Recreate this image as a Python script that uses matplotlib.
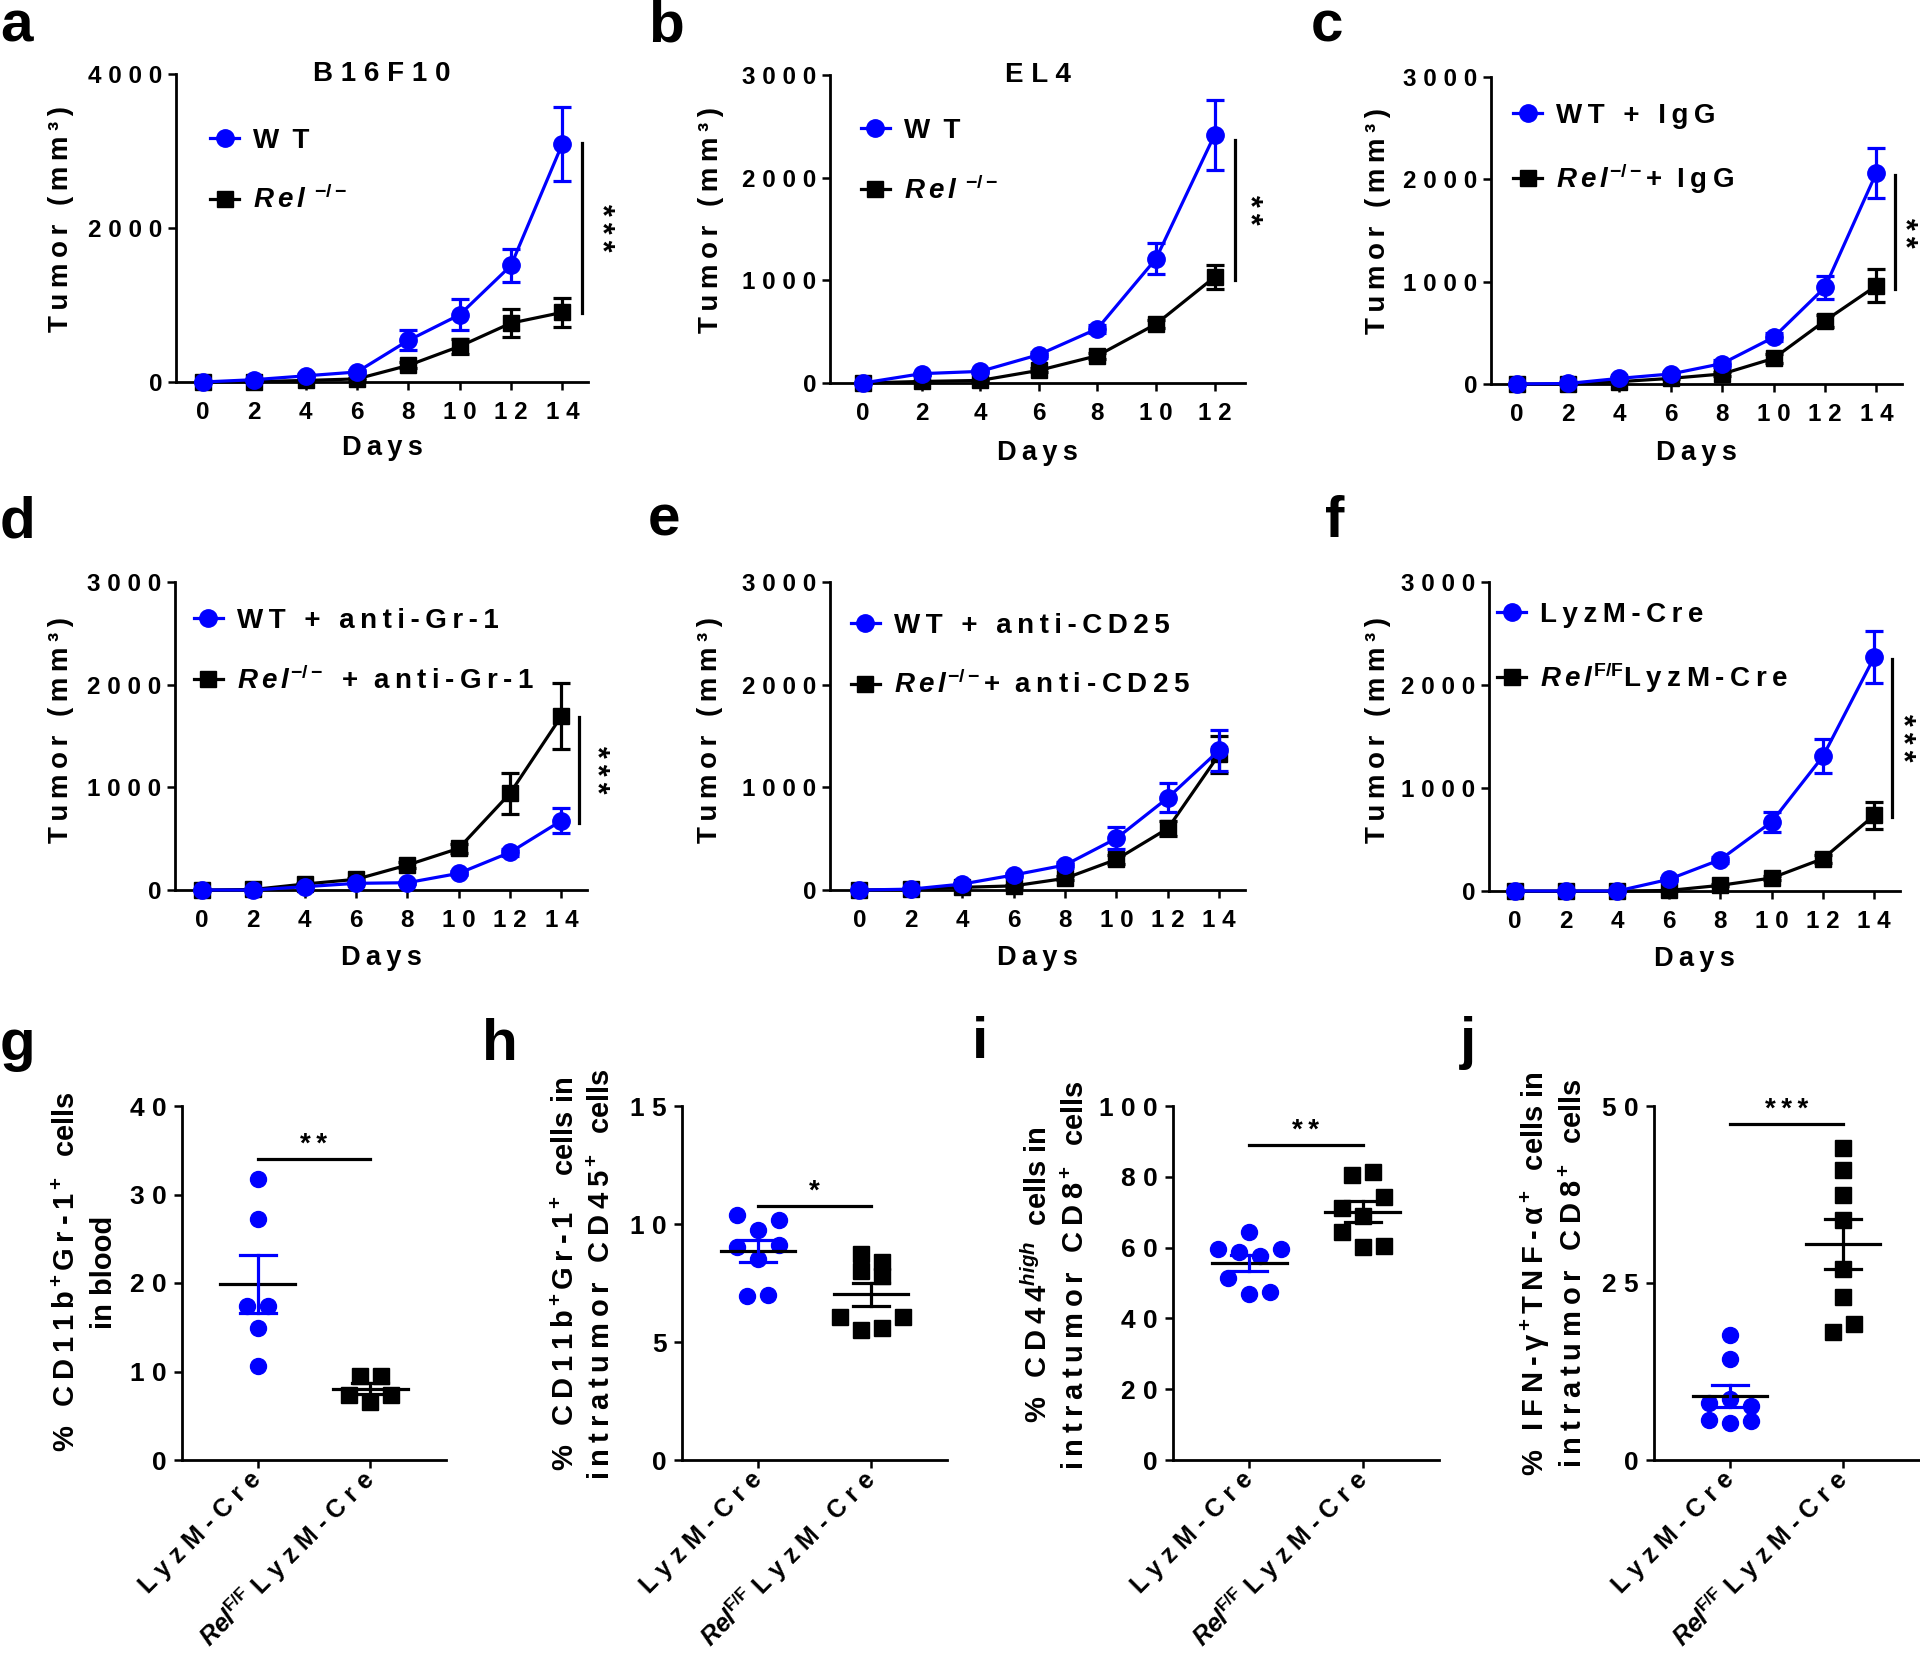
import numpy as np
import matplotlib
matplotlib.use("Agg")
import matplotlib.pyplot as plt
from matplotlib.lines import Line2D

plt.rcParams.update({
    "font.family": ["Liberation Sans", "DejaVu Sans"],
    "font.weight": "bold",
    "axes.labelweight": "bold",
    "mathtext.fontset": "custom",
    "mathtext.rm": "Liberation Sans:bold",
    "mathtext.it": "Liberation Sans:italic:bold",
    "mathtext.bf": "Liberation Sans:bold",
    "mathtext.sf": "Liberation Sans",
    "mathtext.cal": "Liberation Sans:italic",
    "axes.linewidth": 2.0,
})

BLUE = "#0000ff"
HAIR = "\u200a"
THIN = "\u2009"


def sp(s, sep=" "):
    return sep.join(s)


# ------------------------------------------------------------------ data
days14 = [0, 2, 4, 6, 8, 10, 12, 14]
days12 = [0, 2, 4, 6, 8, 10, 12]

# a  B16F10
a_wt = [0, 30, 80, 130, 540, 873, 1513, 3092]
a_wt_err = [0, 0, 20, 20, 130, 200, 220, 480]
a_ko = [0, 5, 20, 40, 216, 463, 765, 904]
a_ko_err = [0, 0, 5, 10, 40, 100, 180, 190]

# b  EL4
b_wt = [0, 91, 113, 276, 529, 1210, 2416]
b_wt_err = [0, 10, 15, 30, 40, 150, 340]
b_ko = [0, 15, 25, 123, 266, 574, 1031]
b_ko_err = [0, 5, 5, 20, 30, 40, 120]

# c  + IgG
c_wt = [0, 5, 55, 98, 200, 456, 944, 2063]
c_wt_err = [0, 0, 10, 15, 30, 40, 110, 245]
c_ko = [0, 0, 23, 55, 98, 250, 618, 960]
c_ko_err = [0, 0, 5, 10, 20, 40, 60, 160]

# d  + anti-Gr-1
d_wt = [0, 0, 32, 65, 71, 162, 366, 675]
d_wt_err = [0, 0, 5, 10, 10, 20, 30, 120]
d_ko = [0, 5, 58, 104, 243, 405, 941, 1693]
d_ko_err = [0, 0, 10, 15, 30, 40, 200, 320]

# e  + anti-CD25
e_wt = [0, 8, 58, 146, 243, 503, 898, 1362]
e_wt_err = [0, 0, 10, 20, 30, 107, 140, 200]
e_ko = [0, 5, 26, 40, 113, 298, 600, 1323]
e_ko_err = [0, 0, 5, 10, 20, 40, 70, 180]

# f  LyzM-Cre vs Rel F/F LyzM-Cre
f_wt = [0, 0, 0, 113, 304, 670, 1307, 2272]
f_wt_err = [0, 0, 0, 15, 30, 100, 165, 250]
f_ko = [0, 0, 0, 5, 55, 126, 314, 735]
f_ko_err = [0, 0, 0, 5, 10, 20, 40, 130]

# g-j scatter (individual mice)
g_ctrl = [31.7, 27.2, 17.4, 17.4, 14.9, 10.6]
g_ko = [9.5, 9.5, 7.3, 6.6, 7.3]
h_ctrl = [10.37, 9.74, 10.19, 9.04, 8.53, 9.13, 6.94, 7.0]
h_ko = [8.75, 8.40, 8.01, 7.81, 6.04, 5.5, 5.58, 6.04]
i_ctrl = [64.3, 59.6, 58.7, 57.5, 59.6, 51.4, 46.9, 47.5]
i_ko = [80.4, 81.3, 71.1, 68.9, 74.3, 64.5, 60.2, 60.5]
j_ctrl = [17.6, 14.2, 8.07, 8.55, 7.65, 5.66, 5.24, 5.54]
j_ko = [44.1, 40.9, 37.5, 33.9, 27.0, 23.0, 18.1, 19.2]

# ------------------------------------------------------------------ figure
W, H = 1920, 1666
fig = plt.figure(figsize=(W / 100, H / 100), dpi=100)


def add_ax(l, t, r, b):
    return fig.add_axes([l / W, 1 - b / H, (r - l) / W, (b - t) / H])


def base_style(ax):
    for s in ("top", "right"):
        ax.spines[s].set_visible(False)
    ax.tick_params(direction="out", length=6, width=1.8, color="black")


def noclip(cont):
    data_line, caplines, barcols = cont.lines
    for a in [data_line, *caplines, *barcols]:
        if a is not None:
            a.set_clip_on(False)


def rel_sup(sup):
    return r"$\mathit{R\,e\,l}^{" + sup + r"}$"


def line_panel(ax, days, wt, wt_err, ko, ko_err, labels, ytop, yticks, xlim,
               leg_xy, ylab_xy, xlab_y, title=None, sig=None):
    base_style(ax)
    ax.set_xlim(*xlim)
    ax.set_ylim(0, ytop)
    c1 = ax.errorbar(days, ko, yerr=ko_err, color="black", marker="s", ms=11.5,
                     lw=2.3, elinewidth=2.3, capsize=6.5, capthick=2.3, zorder=3)
    c2 = ax.errorbar(days, wt, yerr=wt_err, color=BLUE, marker="o", ms=12.5,
                     lw=2.3, elinewidth=2.3, capsize=6.5, capthick=2.3, zorder=4)
    noclip(c1)
    noclip(c2)
    ax.set_xticks(days)
    ax.set_xticklabels([sp(str(d)) for d in days], fontsize=17.5)
    ax.set_yticks(yticks)
    ax.set_yticklabels([sp(str(v)) for v in yticks], fontsize=17.5)
    ax.tick_params(axis="x", pad=8)
    ax.tick_params(axis="y", pad=4)
    ax.set_xlabel(sp("Days", THIN), fontsize=19.5, va="center")
    ax.xaxis.set_label_coords(0.5, xlab_y)
    ax.set_ylabel(sp("Tumor (mm³)", THIN), fontsize=20, va="center")
    ax.yaxis.set_label_coords(*ylab_xy)
    handles = [Line2D([0], [0], color=BLUE, marker="o", ms=12.5, lw=2.3),
               Line2D([0], [0], color="black", marker="s", ms=11.5, lw=2.3)]
    ax.legend(handles, labels, loc="upper left", bbox_to_anchor=leg_xy,
              frameon=False, handlelength=1.05, handletextpad=0.5,
              labelspacing=1.15, borderpad=0, borderaxespad=0, fontsize=20)
    if title:
        ax.text(0.5, 1.0, sp(title), transform=ax.transAxes, ha="center",
                va="center", fontsize=20)
    if sig:
        x, y0, y1, stars, xt = sig
        ax.plot([x, x], [y0, y1], color="black", lw=2.3, clip_on=False)
        ax.text(xt, (y0 + y1) / 2, sp(stars, THIN), rotation=270, ha="center",
                va="center", fontsize=22, clip_on=False)


def swarm_offsets(ax, values, step_px=21.0, thresh_px=16.1):
    vals = np.asarray(values, dtype=float)
    ypix = ax.transData.transform(np.column_stack([np.zeros(len(vals)), vals]))[:, 1]
    clusters = []
    for i, yp in enumerate(ypix):
        if clusters and abs(yp - ypix[clusters[-1][0]]) <= thresh_px:
            clusters[-1].append(i)
        else:
            clusters.append([i])
    px_per_x = ax.transData.transform((1, 0))[0] - ax.transData.transform((0, 0))[0]
    offs = np.zeros(len(vals))
    for c in clusters:
        n = len(c)
        for k, idx in enumerate(c):
            offs[idx] = (k - (n - 1) / 2) * step_px / px_per_x
    return offs


cat_labels = [sp("LyzM-Cre"),
              r"$\mathcal{Rel}^{\mathsf{F/F}}$ " + sp("LyzM-Cre")]


def scatter_panel(ax, ctrl, ko, ytop, yticks, ylabel, ylab_xy, sig_y, stars):
    base_style(ax)
    ax.set_xlim(-0.67, 1.67)
    ax.set_ylim(0, ytop)
    groups = [(ctrl, BLUE, "o", 11.5), (ko, "black", "s", 11)]
    for i, (vals, color, marker, ms) in enumerate(groups):
        offs = swarm_offsets(ax, vals)
        ax.plot(i + offs, vals, ls="none", marker=marker, color=color, ms=ms,
                mec=color, clip_on=False, zorder=3)
        m = np.mean(vals)
        se = np.std(vals, ddof=1) / np.sqrt(len(vals))
        ax.plot([i - 0.33, i + 0.33], [m, m], color="black", lw=2.3, zorder=4)
        ax.plot([i, i], [m - se, m + se], color=color, lw=2.3, zorder=4)
        for yy in (m - se, m + se):
            ax.plot([i - 0.16, i + 0.16], [yy, yy], color=color, lw=2.3, zorder=4)
    ax.set_xticks([0, 1])
    ax.set_xticklabels(cat_labels, rotation=45, ha="right", va="center",
                       rotation_mode="anchor", fontsize=18)
    ax.tick_params(axis="x", pad=5)
    ax.set_yticks(yticks)
    ax.set_yticklabels([sp(str(v)) for v in yticks], fontsize=19)
    ax.tick_params(axis="y", pad=5)
    ax.set_ylabel(ylabel, fontsize=21, va="center", ha="center",
                  multialignment="center", linespacing=1.4)
    ax.yaxis.set_label_coords(*ylab_xy)
    ax.plot([0, 1], [sig_y, sig_y], color="black", lw=2.3)
    ax.text(0.5, sig_y + ytop * 0.004, sp(stars, THIN), ha="center", va="bottom",
            fontsize=20)


def t(s):
    """letter-spaced plain text fragment"""
    return sp(s, THIN)


PLUS = "$^+$"
WT_LABEL = "W" + THIN + " " + "T"

# ---- top row
ax_a = add_ax(176, 74, 588, 382)
line_panel(ax_a, days14, a_wt, a_wt_err, a_ko, a_ko_err,
           [WT_LABEL, rel_sup("") + r"$\;{}^{-/-}$"],
           4000, [0, 2000, 4000], (-1.05, 15.0), (0.083, 0.825), (-0.279, 0.53), -0.214,
           title="B16F10", sig=(14.77, 3100, 895, "***", 15.45))

ax_b = add_ax(830, 75, 1245, 383)
line_panel(ax_b, days12, b_wt, b_wt_err, b_ko, b_ko_err,
           [WT_LABEL, rel_sup("") + r"$\;{}^{-/-}$"],
           3000, [0, 1000, 2000, 3000], (-1.13, 13.04), (0.074, 0.86), (-0.287, 0.53), -0.227,
           title="EL4", sig=(12.7, 2368, 1005, "**", 13.15))

ax_c = add_ax(1491, 77, 1902, 384)
line_panel(ax_c, days14, c_wt, c_wt_err, c_ko, c_ko_err,
           [t("WT + IgG"), rel_sup("-/-") + "+  " + t("IgG")],
           3000, [0, 1000, 2000, 3000], (-1.0, 15.0), (0.054, 0.915), (-0.275, 0.53), -0.224,
           sig=(14.72, 2040, 924, "**", 15.05))

# ---- middle row
ax_d = add_ax(175, 582, 587, 890)
line_panel(ax_d, days14, d_wt, d_wt_err, d_ko, d_ko_err,
           [t("WT + anti-Gr-1"), rel_sup("-/-") + "  +  " + t("anti-Gr-1")],
           3000, [0, 1000, 2000, 3000], (-1.05, 15.0), (0.045, 0.915), (-0.276, 0.52), -0.22,
           sig=(14.7, 1687, 655, "***", 15.3))

ax_e = add_ax(830, 582, 1245, 890)
line_panel(ax_e, days14, e_wt, e_wt_err, e_ko, e_ko_err,
           [t("WT + anti-CD25"), rel_sup("-/-") + "+  " + t("anti-CD25")],
           3000, [0, 1000, 2000, 3000], (-1.14, 15.0), (0.05, 0.9), (-0.29, 0.52), -0.22)

ax_f = add_ax(1489, 582, 1900, 891)
line_panel(ax_f, days14, f_wt, f_wt_err, f_ko, f_ko_err,
           [t("LyzM-Cre"), rel_sup(r"\mathrm{F/F}") + t("LyzM-Cre")],
           3000, [0, 1000, 2000, 3000], (-1.0, 15.0), (0.02, 0.935), (-0.27, 0.52), -0.22,
           sig=(14.7, 2256, 718, "***", 15.05))

# ---- bottom row
T_ROW, B_ROW = 1106, 1460
ax_g = add_ax(182, T_ROW, 446, B_ROW)
scatter_panel(ax_g, g_ctrl, g_ko, 40, [0, 10, 20, 30, 40],
              t("% CD11b") + PLUS + t("Gr-1") + PLUS + "  " + "cells\n" + "in blood",
              (-0.367, 0.531), 34.0, "**")

ax_h = add_ax(682, T_ROW, 947, B_ROW)
scatter_panel(ax_h, h_ctrl, h_ko, 15, [0, 5, 10, 15],
              t("% CD11b") + PLUS + t("Gr-1") + PLUS + "  cells in\n"
              + t("intratumor CD45") + PLUS + "  cells",
              (-0.37, 0.525), 10.75, "*")

ax_i = add_ax(1173, T_ROW, 1439, B_ROW)
scatter_panel(ax_i, i_ctrl, i_ko, 100, [0, 20, 40, 60, 80, 100],
              t("% CD44") + "$^{high}$" + "  cells in\n"
              + t("intratumor CD8") + PLUS + "  cells",
              (-0.44, 0.523), 89.0, "**")

ax_j = add_ax(1654, T_ROW, 1919, B_ROW)
scatter_panel(ax_j, j_ctrl, j_ko, 50, [0, 25, 50],
              t("% IFN-γ") + PLUS + t("TNF-α") + PLUS + "  cells in\n"
              + t("intratumor CD8") + PLUS + "  cells",
              (-0.38, 0.527), 47.4, "***")

# ---- panel letters
letters = [("a", 0, 42), ("b", 648, 42), ("c", 1311, 42),
           ("d", 0, 537), ("e", 648, 536), ("f", 1325, 537),
           ("g", 0, 1060), ("h", 482, 1060), ("i", 972, 1058), ("j", 1460, 1058)]
for txt, x, y in letters:
    fig.text(x / W, 1 - y / H, txt, fontsize=42, fontweight="bold",
             ha="left", va="baseline")

fig.savefig("out.png", dpi=100)
